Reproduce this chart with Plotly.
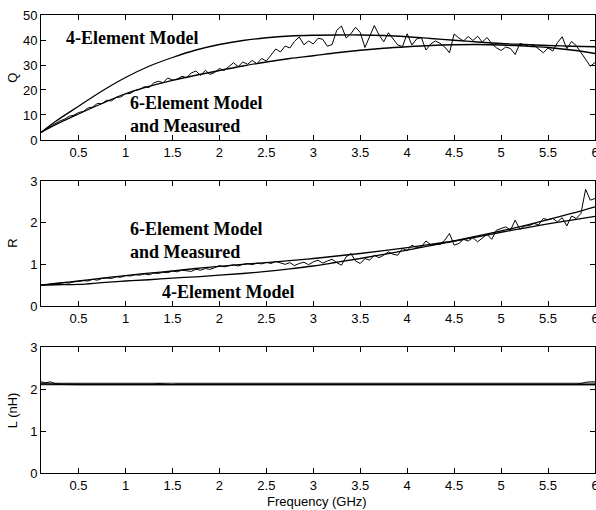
import plotly.graph_objects as go

# ---------------- data ----------------
freq_model = [0.1, 0.25, 0.5, 0.75, 1.0, 1.25, 1.5, 1.75, 2.0, 2.25, 2.5, 2.75, 3.0,
              3.25, 3.5, 3.75, 4.0, 4.25, 4.5, 4.75, 5.0, 5.25, 5.5, 5.75, 6.0]

q_4el = [3.0, 7.3, 13.5, 19.6, 25.0, 29.5, 33.0, 36.0, 38.2, 39.8, 40.9, 41.6, 41.9,
         42.0, 42.0, 41.8, 41.3, 40.6, 39.9, 39.2, 38.6, 38.2, 37.8, 37.5, 37.3]
q_6el = [3.0, 6.0, 10.4, 14.6, 18.5, 21.4, 23.8, 25.9, 27.8, 29.6, 31.2, 32.6, 33.7,
         34.9, 35.9, 36.7, 37.3, 37.8, 38.1, 38.2, 38.0, 37.6, 37.0, 36.0, 34.6]

r_4el = [0.50, 0.51, 0.52, 0.56, 0.60, 0.63, 0.67, 0.70, 0.74, 0.78, 0.83, 0.89, 0.96,
         1.05, 1.14, 1.24, 1.34, 1.45, 1.56, 1.68, 1.80, 1.93, 2.07, 2.22, 2.38]
r_6el = [0.50, 0.54, 0.60, 0.67, 0.73, 0.79, 0.84, 0.90, 0.95, 1.00, 1.04, 1.09, 1.14,
         1.20, 1.26, 1.33, 1.40, 1.48, 1.56, 1.66, 1.77, 1.87, 1.97, 2.06, 2.15]

l_4el = [2.12] * 25
l_6el = [2.12, 2.11, 2.11, 2.11, 2.11, 2.11, 2.11, 2.11, 2.11, 2.11, 2.11, 2.11, 2.11,
         2.11, 2.11, 2.11, 2.11, 2.11, 2.11, 2.11, 2.11, 2.11, 2.11, 2.11, 2.11]

# measured, 0.1 ... 6.0 GHz in 0.05 GHz steps
q_meas = [3.2, 4.3, 5.3, 6.5, 7.6, 8.3, 9.5, 9.9, 11.0, 11.4,
          12.8, 13.2, 14.6, 14.5, 15.9, 15.6, 17.0, 17.2, 18.5, 18.6,
          19.8, 20.2, 21.3, 21.0, 22.8, 23.5, 22.9, 24.8, 24.0, 24.3,
          25.5, 24.9, 26.8, 27.6, 25.8, 27.9, 26.2, 27.0, 28.6, 27.8,
          29.3, 30.9, 29.4, 31.2, 30.3, 31.8, 30.5, 32.6, 31.6, 34.2,
          36.4, 35.2, 37.6, 36.8, 39.5, 41.2, 38.1, 39.6, 38.4, 40.7,
          40.3, 37.5, 38.2, 43.9, 45.6, 40.8, 42.5, 45.1, 43.0, 37.0,
          41.5, 45.8, 42.0, 39.3, 42.9, 40.2, 38.0, 37.4, 42.5, 38.0,
          40.4, 41.0, 36.0, 38.4, 39.6, 38.7, 37.2, 34.9, 42.4, 40.8,
          39.6, 41.4, 39.8, 41.5, 39.2, 41.0, 38.6, 36.9, 35.8, 37.2,
          36.6, 34.2, 38.6, 38.1, 37.4, 37.9, 36.4, 34.9, 36.8, 35.6,
          38.9, 41.3, 36.5, 39.4, 37.8, 35.2, 32.4, 29.5, 31.0]

r_meas = [0.50, 0.51, 0.52, 0.53, 0.55, 0.56, 0.55, 0.58, 0.59, 0.61,
          0.60, 0.64, 0.62, 0.66, 0.67, 0.66, 0.70, 0.69, 0.73, 0.72,
          0.75, 0.74, 0.77, 0.75, 0.79, 0.78, 0.81, 0.80, 0.84, 0.82,
          0.86, 0.85, 0.83, 0.88, 0.86, 0.90, 0.88, 0.92, 0.97, 0.94,
          0.96, 0.99, 0.96, 1.00, 1.02, 0.99, 1.03, 1.01, 1.05, 1.02,
          1.07, 1.03, 1.00, 1.04, 0.97, 1.02, 1.05, 0.99, 1.06, 1.10,
          1.03, 1.08, 1.12, 1.04, 0.98, 1.18, 1.26, 1.08, 1.02, 1.14,
          1.10, 1.22, 1.16, 1.22, 1.30, 1.24, 1.22, 1.38, 1.33, 1.46,
          1.40, 1.42, 1.56, 1.47, 1.49, 1.48, 1.58, 1.74, 1.46, 1.50,
          1.60, 1.56, 1.64, 1.54, 1.64, 1.72, 1.60, 1.82, 1.86, 1.90,
          1.82, 2.06, 1.84, 1.92, 1.93, 1.98, 1.95, 2.10, 2.07, 2.10,
          2.02, 2.12, 1.92, 2.16, 2.10, 2.22, 2.80, 2.54, 2.58]

l_meas = [2.17, 2.15, 2.17, 2.13, 2.12, 2.12, 2.11, 2.12, 2.12, 2.11,
          2.12, 2.12, 2.12, 2.11, 2.12, 2.12, 2.12, 2.12, 2.11, 2.12,
          2.12, 2.12, 2.12, 2.11, 2.12, 2.13, 2.12, 2.12, 2.11, 2.12,
          2.12, 2.12, 2.11, 2.12, 2.12, 2.12, 2.12, 2.11, 2.12, 2.12,
          2.12, 2.12, 2.12, 2.11, 2.12, 2.12, 2.12, 2.12, 2.12, 2.12,
          2.11, 2.12, 2.12, 2.12, 2.12, 2.12, 2.12, 2.11, 2.12, 2.12,
          2.12, 2.12, 2.12, 2.12, 2.12, 2.11, 2.12, 2.12, 2.12, 2.12,
          2.12, 2.12, 2.12, 2.12, 2.12, 2.12, 2.12, 2.12, 2.12, 2.12,
          2.12, 2.12, 2.12, 2.12, 2.12, 2.12, 2.12, 2.12, 2.12, 2.12,
          2.12, 2.12, 2.12, 2.12, 2.12, 2.12, 2.12, 2.12, 2.12, 2.12,
          2.12, 2.12, 2.12, 2.12, 2.12, 2.12, 2.12, 2.12, 2.12, 2.12,
          2.12, 2.12, 2.12, 2.12, 2.12, 2.13, 2.16, 2.17, 2.17]

freq_meas = [round(0.1 + 0.05 * i, 2) for i in range(len(q_meas))]

x_ticks = [0.5, 1, 1.5, 2, 2.5, 3, 3.5, 4, 4.5, 5, 5.5, 6]
x_ticktext = ["0.5", "1", "1.5", "2", "2.5", "3", "3.5", "4", "4.5", "5", "5.5", "6"]
q_ticks = [0, 10, 20, 30, 40, 50]
r_ticks = [0, 1, 2, 3]
l_ticks = [0, 1, 2, 3]

# ---------------- figure ----------------
fig = go.Figure()

BLACK = "#000000"
GRAY = "#8c8c8c"

def add(x, y, ax, color=BLACK, width=1.2, shape="linear"):
    fig.add_trace(go.Scatter(x=x, y=y, mode="lines", xaxis="x" + ax, yaxis="y" + ax,
                             line=dict(color=color, width=width, shape=shape),
                             showlegend=False, hoverinfo="skip"))

add(freq_model, q_4el, "", width=1.3, shape="spline")
add(freq_model, q_6el, "", width=1.3, shape="spline")
add(freq_meas, q_meas, "", width=1.0)

add(freq_model, r_4el, "2", width=1.3, shape="spline")
add(freq_model, r_6el, "2", width=1.3, shape="spline")
add(freq_meas, r_meas, "2", width=1.0)

add(freq_model, l_4el, "3", color=GRAY, width=3)
add(freq_model, l_6el, "3", width=1.5)
add(freq_meas, l_meas, "3", width=1.0)

TICKFONT = dict(family="Liberation Sans, Arial, sans-serif", size=13, color="black")

def xax(anchor):
    return dict(domain=[0, 1], range=[0.1, 6], anchor=anchor, tickvals=x_ticks,
                ticktext=x_ticktext, ticks="inside", ticklen=5, tickcolor="black",
                showline=True, linecolor="black", linewidth=1, mirror="ticks",
                showgrid=False, zeroline=False, tickfont=TICKFONT, automargin=False,
                ticklabeloverflow="allow")

def yax(anchor, dom, rng, tv):
    return dict(domain=dom, range=rng, anchor=anchor, tickvals=tv, ticks="inside",
                ticklen=5, tickcolor="black", showline=True, linecolor="black",
                linewidth=1, mirror="ticks", showgrid=False, zeroline=False,
                tickfont=TICKFONT, automargin=False)

fig.update_layout(
    width=596, height=510,
    margin=dict(l=41, r=1, t=15, b=37),
    paper_bgcolor="white", plot_bgcolor="white",
    xaxis=xax("y"), yaxis=yax("x", [0.7271, 1.0], [0, 50], q_ticks),
    xaxis2=xax("y2"), yaxis2=yax("x2", [0.3646, 0.6376], [0, 3], r_ticks),
    xaxis3=xax("y3"), yaxis3=yax("x3", [0.0, 0.2751], [0, 3], l_ticks),
)

SERIF = dict(family="Liberation Serif, Times New Roman, serif", size=18, color="black")
LABEL = dict(family="Liberation Sans, Arial, sans-serif", size=13, color="black")

annotations = [
    dict(x=0.35, y=40.8, xref="x", yref="y", text="<b>4-Element Model</b>",
         xanchor="left", yanchor="middle", showarrow=False, font=SERIF),
    dict(x=1.03, y=10.0, xref="x", yref="y", text="<b>6-Element Model<br>and Measured</b>",
         xanchor="left", yanchor="middle", align="left", showarrow=False, font=SERIF),
    dict(x=1.03, y=1.58, xref="x2", yref="y2", text="<b>6-Element Model<br>and Measured</b>",
         xanchor="left", yanchor="middle", align="left", showarrow=False, font=SERIF),
    dict(x=1.37, y=0.34, xref="x2", yref="y2", text="<b>4-Element Model</b>",
         xanchor="left", yanchor="middle", showarrow=False, font=SERIF),
    dict(x=-0.052, y=0.8635, xref="paper", yref="paper", text="Q", textangle=-90,
         xanchor="center", yanchor="middle", showarrow=False, font=LABEL),
    dict(x=-0.052, y=0.501, xref="paper", yref="paper", text="R", textangle=-90,
         xanchor="center", yanchor="middle", showarrow=False, font=LABEL),
    dict(x=-0.052, y=0.1375, xref="paper", yref="paper", text="L (nH)", textangle=-90,
         xanchor="center", yanchor="middle", showarrow=False, font=LABEL),
    dict(x=0.498, y=-0.062, xref="paper", yref="paper", text="Frequency (GHz)",
         xanchor="center", yanchor="middle", showarrow=False, font=LABEL),
]
fig.update_layout(annotations=annotations)

fig.write_html("out.html",
               config={"displayModeBar": False},
               post_script="document.body.style.margin='0';document.body.style.overflow='hidden';")
